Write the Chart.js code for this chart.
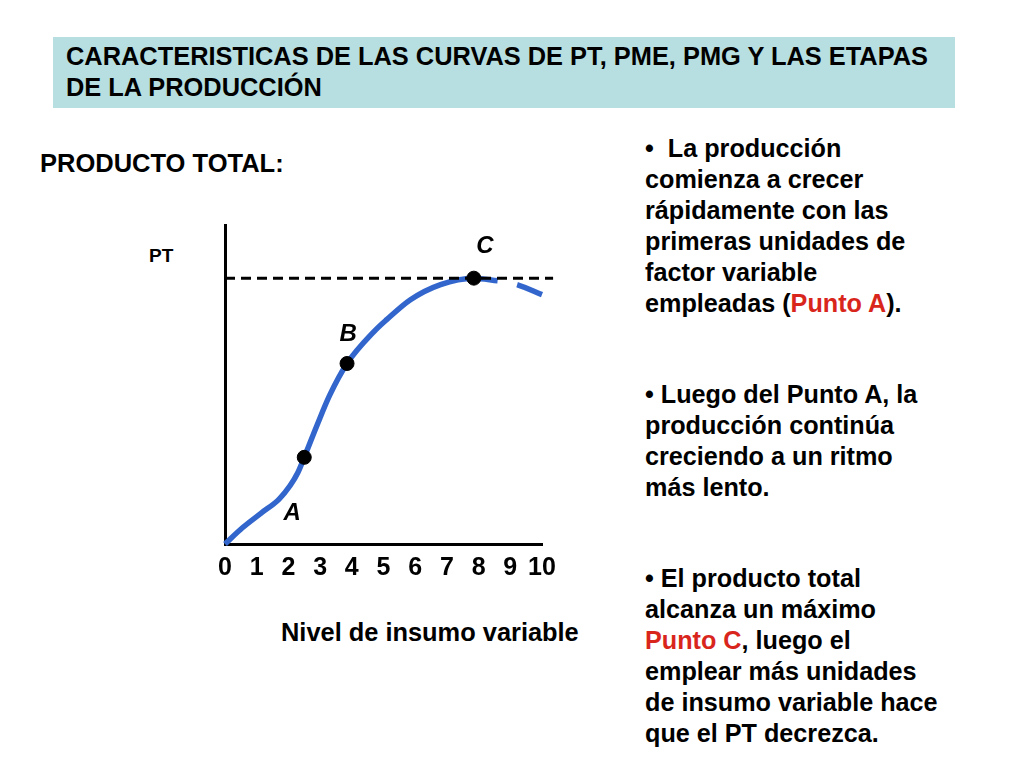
<!DOCTYPE html>
<html>
<head>
<meta charset="utf-8">
<script src="https://cdn.jsdelivr.net/npm/chart.js@4.4.1/dist/chart.umd.min.js"></script>
<style>
  html, body { margin:0; padding:0; background:#fff; }
  body { width:1024px; height:768px; position:relative; overflow:hidden;
         font-family:"Liberation Sans", Arial, Helvetica, sans-serif; font-weight:bold; color:#000; }
  #title { position:absolute; left:53px; top:37px; width:902px; height:71px; background:#b7dfe1; }
  #title div { position:absolute; left:13px; top:4px; font-size:25.4px; line-height:31px; white-space:nowrap; }
  .t { position:absolute; white-space:nowrap; line-height:30px; }
  #side { position:absolute; left:645px; top:133px; font-size:25.2px; line-height:31px; }
  #side p { margin:0; white-space:nowrap; }
  .red { color:#d9261c; }
  #chartBox { position:absolute; left:180px; top:210px; width:400px; height:390px; }
</style>
</head>
<body>
<div id="title"><div>CARACTERISTICAS DE LAS CURVAS DE PT, PME, PMG Y LAS ETAPAS<br>DE LA PRODUCCIÓN</div></div>
<div class="t" style="left:40px; top:148px; font-size:25.5px;">PRODUCTO TOTAL:</div>
<div class="t" style="left:149px; top:241px; font-size:19px;">PT</div>
<div class="t" style="left:281px; top:617px; font-size:25.4px;">Nivel de insumo variable</div>
<div id="side">
  <p>•&nbsp; La producción</p>
  <p>comienza a crecer</p>
  <p>rápidamente con las</p>
  <p>primeras unidades de</p>
  <p>factor variable</p>
  <p>empleadas (<span class="red">Punto A</span>).</p>
  <p style="margin-top:60px">• Luego del Punto A, la</p>
  <p>producción continúa</p>
  <p>creciendo a un ritmo</p>
  <p>más lento.</p>
  <p style="margin-top:60px">• El producto total</p>
  <p>alcanza un máximo</p>
  <p><span class="red">Punto C</span>, luego el</p>
  <p>emplear más unidades</p>
  <p>de insumo variable hace</p>
  <p>que el PT decrezca.</p>
</div>
<div id="chartBox"><canvas id="c"></canvas></div>
<script>
// Data (x = nivel de insumo, y = producto total)
const curveX = [0, 0.55, 1.15, 1.7, 2.05, 2.3, 2.5, 2.9, 3.3, 3.85, 4.7, 5.1, 5.85, 6.8, 7.85, 8.6];
const curveY = [0, 6.1, 11.7, 16.8, 21.9, 26.9, 32.6, 44.6, 55.9, 67.9, 79.9, 84.4, 91.9, 97.6, 100, 99.0];
const tailX = [8.6, 9.25, 10];
const tailY = [99.0, 97.4, 93.8];
const maxLineX = [0, 10.35];
const maxLineY = [100, 100];
const pointNames = ['A', 'B', 'C'];
const pointX = [2.5, 3.85, 7.85];
const pointY = [32.6, 67.9, 100];
const tickLabels = ['0','1','2','3','4','5','6','7','8','9','10'];

const zip = (xs, ys) => xs.map((x, i) => ({ x, y: ys[i] }));

const labelOffsets = { A: [-12, 56], B: [1, -29], C: [11, -32] };
const pointLabelPlugin = {
  id: 'pointLabels',
  afterDatasetsDraw(chart) {
    const ctx = chart.ctx, xs = chart.scales.x, ys = chart.scales.y;
    ctx.save();
    ctx.font = 'italic bold 24px "Liberation Sans", Arial, sans-serif';
    ctx.fillStyle = '#000';
    ctx.textAlign = 'center';
    ctx.textBaseline = 'middle';
    pointNames.forEach((n, i) => {
      const off = labelOffsets[n];
      ctx.fillText(n, xs.getPixelForValue(pointX[i]) + off[0], ys.getPixelForValue(pointY[i]) + off[1]);
    });
    ctx.restore();
  }
};

new Chart(document.getElementById('c'), {
  type: 'scatter',
  data: {
    datasets: [
      { label: 'Puntos', data: zip(pointX, pointY), showLine: false, order: 0,
        pointRadius: 7, pointBackgroundColor: '#000', pointBorderColor: '#000', clip: false },
      { label: 'Máximo', data: zip(maxLineX, maxLineY), showLine: true, order: 1,
        borderColor: '#000', borderWidth: 3, borderDash: [10, 6], pointRadius: 0, clip: false },
      { label: 'PT', data: zip(curveX, curveY), showLine: true, order: 2,
        borderColor: '#3366cc', borderWidth: 5.5, pointRadius: 0, cubicInterpolationMode: 'monotone',
        borderCapStyle: 'butt', clip: false },
      { label: 'PT (decrece)', data: zip(tailX, tailY), showLine: true, order: 3,
        borderColor: '#3366cc', borderWidth: 5.5, pointRadius: 0, tension: 0.4,
        borderDash: [27, 20], borderDashOffset: 27, borderCapStyle: 'butt', clip: false }
    ]
  },
  options: {
    responsive: true,
    maintainAspectRatio: false,
    animation: false,
    layout: { padding: { left: 45, top: 15, right: 38, bottom: 8 } },
    plugins: { legend: { display: false }, tooltip: { enabled: false } },
    scales: {
      x: {
        type: 'linear', min: 0, max: 10,
        grid: { display: false, drawTicks: false },
        border: { display: true, color: '#000', width: 3 },
        ticks: {
          stepSize: 1, padding: 9, color: '#000',
          font: { family: '"Liberation Sans", Arial, sans-serif', size: 25, weight: 'bold' },
          maxRotation: 0, autoSkip: false,
          callback: (v) => tickLabels[v] ?? ''
        }
      },
      y: {
        type: 'linear', min: 0, max: 120,
        grid: { display: false, drawTicks: false },
        border: { display: true, color: '#000', width: 3 },
        ticks: { display: false }
      }
    }
  },
  plugins: [pointLabelPlugin]
});
</script>
</body>
</html>
